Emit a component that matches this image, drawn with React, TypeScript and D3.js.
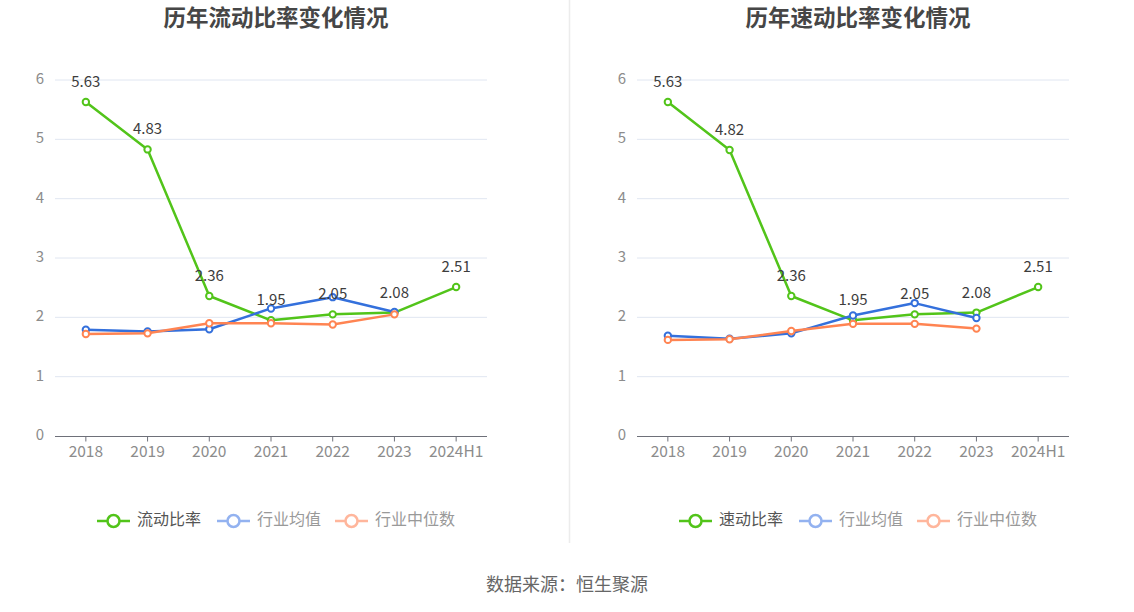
import React from 'react';
import * as d3 from 'd3';

const years = ['2018', '2019', '2020', '2021', '2022', '2023', '2024H1'];
const yTicks = [0, 1, 2, 3, 4, 5, 6];

// 流动比率
const currentRatio = [5.63, 4.83, 2.36, 1.95, 2.05, 2.08, 2.51];
const currentIndustryAvg = [1.79, 1.76, 1.80, 2.15, 2.34, 2.09];
const currentIndustryMedian = [1.72, 1.73, 1.90, 1.90, 1.88, 2.05];

// 速动比率
const quickRatio = [5.63, 4.82, 2.36, 1.95, 2.05, 2.08, 2.51];
const quickIndustryAvg = [1.69, 1.64, 1.73, 2.03, 2.24, 1.99];
const quickIndustryMedian = [1.62, 1.63, 1.77, 1.89, 1.89, 1.81];

const GREEN = '#52c41a';
const BLUE = '#3470dc';
const ORANGE = '#ff8452';

interface PanelProps {
    x0: number;
    title: string;
    mainName: string;
    main: number[];
    avg: number[];
    median: number[];
}

const Panel: React.FC<PanelProps> = ({ x0, title, mainName, main, avg, median }) => {
    const xScale = d3.scalePoint<string>().domain(years).range([55, 487]).padding(0.5);
    const yScale = d3.scaleLinear().domain([0, 6]).range([436, 80]);
    const line = d3.line<number>()
        .x((_, i) => xScale(years[i]) as number)
        .y(d => yScale(d));

    const series = [
        { name: mainName, data: main, color: GREEN, legendColor: GREEN, text: '#555' },
        { name: '行业均值', data: avg, color: BLUE, legendColor: '#93b2f0', text: '#999' },
        { name: '行业中位数', data: median, color: ORANGE, legendColor: '#ffb69c', text: '#999' },
    ];
    const legendX = [97, 217, 335];

    return (
        <g transform={`translate(${x0},0)`}>
            <text x={276} y={20} textAnchor="middle" dominantBaseline="middle"
                fontSize={22.5} fontWeight="bold" fill="#464646">{title}</text>

            {yTicks.map(t => (
                <g key={t}>
                    {t > 0 && <line x1={55} x2={487} y1={yScale(t)} y2={yScale(t)} stroke="#e0e6f1" />}
                    <text x={44} y={yScale(t)} textAnchor="end" dominantBaseline="middle"
                        fontSize={15} fill="#8c8c8c">{t}</text>
                </g>
            ))}

            <line x1={55} x2={487} y1={436.5} y2={436.5} stroke="#6e7079" />
            {years.map(y => (
                <g key={y}>
                    <line x1={xScale(y)} x2={xScale(y)} y1={436.5} y2={441.5} stroke="#6e7079" />
                    <text x={xScale(y)} y={453} textAnchor="middle" dominantBaseline="middle"
                        fontSize={15.5} fill="#8c8c8c">{y}</text>
                </g>
            ))}

            {series.map(s => (
                <g key={s.name}>
                    <path d={line(s.data) || ''} fill="none" stroke={s.color} strokeWidth={2.5}
                        strokeLinejoin="round" />
                    {s.data.map((d, i) => (
                        <circle key={i} cx={xScale(years[i])} cy={yScale(d)} r={3.2}
                            fill="#fff" stroke={s.color} strokeWidth={2} />
                    ))}
                </g>
            ))}

            {main.map((d, i) => (
                <text key={i} x={xScale(years[i])} y={yScale(d) - 15} textAnchor="middle"
                    fontSize={15} fill="#3d3d3d">{d.toFixed(2)}</text>
            ))}

            {series.map((s, i) => (
                <g key={s.name} transform={`translate(${legendX[i]},521)`}>
                    <line x1={0} x2={33} y1={0} y2={0} stroke={s.legendColor} strokeWidth={2.5} />
                    <circle cx={16.5} cy={0} r={6} fill="#fff" stroke={s.legendColor} strokeWidth={2.5} />
                    <text x={40} y={0} dominantBaseline="middle" fontSize={16} fill={s.text}>{s.name}</text>
                </g>
            ))}
        </g>
    );
};

const App: React.FC = () => {
    return (
        <div style={{ position: 'absolute', left: 0, top: 0 }}>
            <svg width={1134} height={612} fontFamily="'Noto Sans CJK SC', 'Noto Sans', sans-serif"
                style={{ display: 'block', background: '#fff' }}>
                <line x1={569.5} x2={569.5} y1={0} y2={543} stroke="#ececec" strokeWidth={1.5} />
                <Panel x0={0} title="历年流动比率变化情况" mainName="流动比率"
                    main={currentRatio} avg={currentIndustryAvg} median={currentIndustryMedian} />
                <Panel x0={582} title="历年速动比率变化情况" mainName="速动比率"
                    main={quickRatio} avg={quickIndustryAvg} median={quickIndustryMedian} />
                <text x={567} y={586} textAnchor="middle" dominantBaseline="middle"
                    fontSize={18} fill="#666">数据来源：恒生聚源</text>
            </svg>
        </div>
    );
};

export default App;
